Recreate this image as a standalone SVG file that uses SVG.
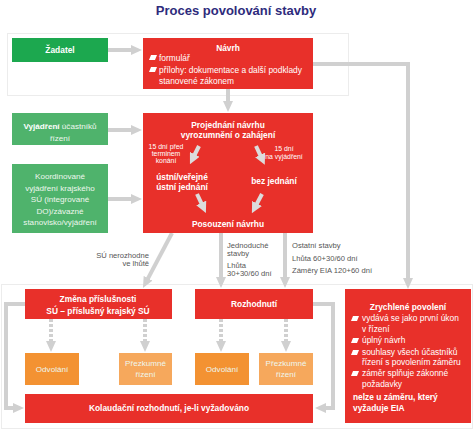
<svg xmlns="http://www.w3.org/2000/svg" width="474" height="431" viewBox="0 0 474 431">
<defs>
<style>
text{font-family:"Liberation Sans",Arial,sans-serif;}
.t{font-size:13px;font-weight:bold;fill:#2e2b7c;text-anchor:middle;}
.wb{font-size:8.4px;font-weight:bold;fill:#fff;text-anchor:middle;}
.wbs{font-size:8.4px;font-weight:bold;fill:#fff;}
.w{font-size:8.4px;fill:#fff;}
.wl{font-size:8.1px;fill:#eef7ee;text-anchor:middle;}
.s{font-size:6.9px;fill:#fff;text-anchor:middle;}
.g{font-size:7.6px;fill:#555;}
.red{fill:#e8302a;}
.grn{fill:#1ca84f;}
.grn2{fill:#4fb36c;}
.or{fill:#f39232;}
.or2{fill:#f6a85c;}
.panel{fill:none;stroke:#ececec;stroke-width:1;}
.c{fill:none;stroke:#d0d0d0;stroke-width:4;marker-end:url(#ah);}
.d{fill:none;stroke:#d0d0d0;stroke-width:4;stroke-dasharray:3 2;marker-end:url(#ah);}
.ia{fill:none;stroke:#dcdcdc;stroke-width:4;marker-end:url(#ah2);}
.bl{fill:#fff;}
</style>
<marker id="ah" viewBox="0 0 11 10" refX="3" refY="5" markerWidth="11" markerHeight="10" markerUnits="userSpaceOnUse" orient="auto"><path d="M0,0 L11,5 L0,10 z" fill="#d0d0d0"/></marker>
<marker id="ah2" viewBox="0 0 11 11" refX="3" refY="5.5" markerWidth="11" markerHeight="11" markerUnits="userSpaceOnUse" orient="auto"><path d="M0,0 L11,5.5 L0,11 z" fill="#dcdcdc"/></marker>
</defs>
<rect width="474" height="431" fill="#fff"/>
<text class="t" x="236" y="15">Proces povolování stavby</text>
<rect class="panel" x="7.5" y="33.5" width="341" height="62"/>
<rect class="panel" x="1.5" y="284.5" width="471" height="144"/>

<g id="connectors">
<path class="c" d="M108,50 H134"/>
<path class="c" d="M228,89 V104"/>
<path class="c" d="M313,64 H408 V281"/>
<path class="c" d="M108,130 H134"/>
<path class="c" d="M108,199 H134"/>
<path class="c" d="M172,233 L146.7,280.9"/>
<path class="c" d="M221,233 V280"/>
<path class="c" d="M285,233 V280"/>
<path class="d" d="M51,319 V344"/>
<path class="d" d="M145,319 V344"/>
<path class="d" d="M221,319 V344"/>
<path class="d" d="M286,319 V344"/>
<path class="c" d="M25,304 H6 V408 H16"/>
<path class="c" d="M313,304 H333 V408 H323"/>
</g>

<g id="zadatel">
<rect class="grn" x="12" y="38" width="96" height="24"/>
<text class="wb" x="60" y="53">Žadatel</text>
</g>

<g id="navrh">
<rect class="red" x="143" y="38" width="170" height="51"/>
<text class="wb" x="228" y="51">Návrh</text>
<polygon class="bl" points="151,55 157,55 155,60 149,60"/>
<text class="w" x="159" y="61">formulář</text>
<polygon class="bl" points="151,67 157,67 155,72 149,72"/>
<text class="w" x="159" y="73">přílohy: dokumentace a další podklady</text>
<text class="w" x="159" y="84">stanovené zákonem</text>
</g>

<g id="vyjadreni">
<rect class="grn2" x="12" y="113" width="96" height="32"/>
<text class="wl" x="60" y="129"><tspan font-weight="bold" fill="#fff">Vyjádření</tspan> účastníků</text>
<text class="wl" x="60" y="141">řízení</text>
</g>

<g id="koordinovane">
<rect class="grn2" x="12" y="164" width="96" height="69"/>
<text class="wl" x="60" y="179">Koordinované</text>
<text class="wl" x="60" y="191">vyjádření krajského</text>
<text class="wl" x="60" y="202">SÚ (integrované</text>
<text class="wl" x="60" y="214">DO)/závazné</text>
<text class="wl" x="60" y="225">stanovisko/vyjádření</text>
</g>

<g id="projednani">
<rect class="red" x="143" y="113" width="170" height="120"/>
<text class="wb" x="228" y="128">Projednání návrhu</text>
<text class="wb" x="228" y="138">vyrozumnění o zahájení</text>
<text class="s" x="166" y="149">15 dní před</text>
<text class="s" x="166" y="156">terminem</text>
<text class="s" x="166" y="163">konání</text>
<text class="s" x="284" y="151">15 dní</text>
<text class="s" x="284" y="159">na vyjádření</text>
<path class="ia" d="M199,146 L193.5,157"/>
<path class="ia" d="M256,146 L261.4,157.6"/>
<text class="wb" x="182" y="180">ústní/veřejné</text>
<text class="wb" x="182" y="190">ústní jednání</text>
<text class="wb" x="274" y="184">bez jednání</text>
<path class="ia" d="M197,194 L202.5,205.7"/>
<path class="ia" d="M262,194 L255.6,206.1"/>
<text class="wb" x="228" y="227">Posouzení návrhu</text>
</g>

<g id="labels">
<text class="g" x="149" y="258" text-anchor="end">SÚ nerozhodne</text>
<text class="g" x="149" y="266" text-anchor="end">ve lhůtě</text>
<text class="g" x="227" y="248">Jednoduché</text>
<text class="g" x="227" y="256">stavby</text>
<text class="g" x="227" y="268">Lhůta</text>
<text class="g" x="227" y="276">30+30/60 dní</text>
<text class="g" x="292" y="248">Ostatní stavby</text>
<text class="g" x="292" y="261">Lhůta 60+30/60 dní</text>
<text class="g" x="292" y="273">Záměry EIA 120+60 dní</text>
</g>

<g id="zmena">
<rect class="red" x="25" y="289" width="147" height="30"/>
<text class="wb" x="98" y="302">Změna příslušnosti</text>
<text class="wb" x="98" y="314">SÚ – příslušný krajský SÚ</text>
</g>

<g id="rozhodnuti">
<rect class="red" x="195" y="289" width="118" height="30"/>
<text class="wb" x="254" y="307">Rozhodnutí</text>
</g>

<g id="zrychlene">
<rect class="red" x="345" y="289" width="126" height="134"/>
<text class="wb" x="408" y="310">Zrychlené povolení</text>
<polygon class="bl" points="353,316 359,316 357,321 351,321"/>
<text class="w" x="362" y="321">vydává se jako první úkon</text>
<text class="w" x="362" y="332">v řízení</text>
<polygon class="bl" points="353,338 359,338 357,343 351,343"/>
<text class="w" x="362" y="343">úplný návrh</text>
<polygon class="bl" points="353,350 359,350 357,355 351,355"/>
<text class="w" x="362" y="355">souhlasy všech účastníků</text>
<text class="w" x="362" y="365">řízení s povolením záměru</text>
<polygon class="bl" points="353,371 359,371 357,376 351,376"/>
<text class="w" x="362" y="376">záměr splňuje zákonné</text>
<text class="w" x="362" y="387">požadavky</text>
<text class="wbs" x="353" y="400">nelze u záměru, který</text>
<text class="wbs" x="353" y="411">vyžaduje EIA</text>
</g>

<g id="odvolani1">
<rect class="or" x="25" y="353" width="54" height="32"/>
<text class="wl" x="52" y="372">Odvolání</text>
</g>
<g id="prezkumne1">
<rect class="or2" x="119" y="353" width="53" height="32"/>
<text class="wl" x="145.5" y="366">Přezkumné</text>
<text class="wl" x="145.5" y="377">řízení</text>
</g>
<g id="odvolani2">
<rect class="or" x="195" y="353" width="54" height="32"/>
<text class="wl" x="222" y="372">Odvolání</text>
</g>
<g id="prezkumne2">
<rect class="or2" x="259" y="353" width="54" height="32"/>
<text class="wl" x="286" y="366">Přezkumné</text>
<text class="wl" x="286" y="377">řízení</text>
</g>

<g id="kolaudacni">
<rect class="red" x="25" y="394" width="288" height="29"/>
<text class="wb" x="169" y="411">Kolaudační rozhodnutí, je-li vyžadováno</text>
</g>
</svg>
